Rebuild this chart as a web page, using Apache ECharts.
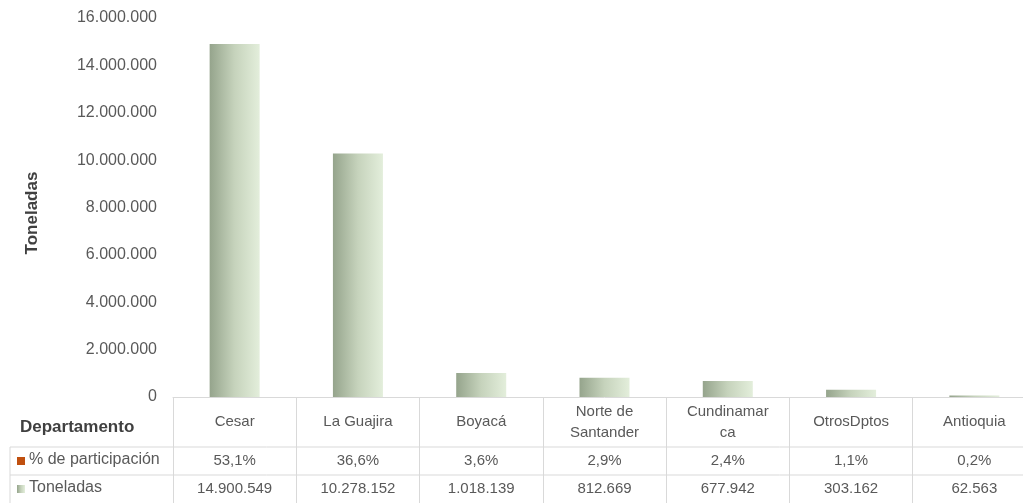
<!DOCTYPE html>
<html>
<head>
<meta charset="utf-8">
<script src="https://cdn.jsdelivr.net/npm/echarts@6/dist/echarts.min.js"></script>
<style>
  html, body { margin: 0; padding: 0; background: #fff; overflow: hidden; }
  #main { width: 1036px; height: 503px; }
</style>
</head>
<body>
<div id="main"></div>
<script>
const categories = ['Cesar', 'La Guajira', 'Boyacá', 'Norte de Santander', 'Cundinamarca', 'OtrosDptos', 'Antioquia']
const categoryLabels = ['Cesar', 'La Guajira', 'Boyacá', 'Norte de\nSantander', 'Cundinamar\nca', 'OtrosDptos', 'Antioquia']
const toneladas = [14900549, 10278152, 1018139, 812669, 677942, 303162, 62563]
const participacion = ['53,1%', '36,6%', '3,6%', '2,9%', '2,4%', '1,1%', '0,2%']
const rowNames = ['% de participación', 'Toneladas']

const fmt = v => String(v).replace(/\B(?=(\d{3})+(?!\d))/g, '.')
const font = 'Liberation Sans, Arial, sans-serif'
const textColor = '#595959'
const lineColor = '#d9d9d9'

const barFill = {
  type: 'linear', x: 0, y: 0, x2: 1, y2: 0,
  colorStops: [
    { offset: 0, color: '#95a48c' },
    { offset: 0.5, color: '#c6d3bc' },
    { offset: 1, color: '#e3eedb' }
  ]
}

const chart = echarts.init(document.getElementById('main'))
const tableAxis = (offset, fn) => ({
  type: 'category',
  position: 'bottom',
  offset: offset,
  data: categories,
  axisLine: { show: false },
  axisTick: { show: false },
  axisLabel: {
    interval: 0,
    margin: 14,
    verticalAlign: 'middle',
    color: textColor,
    fontFamily: font,
    fontSize: 15,
    formatter: fn
  }
})

const option = {
  animation: false,
  grid: { left: 173, top: 18, right: 0, bottom: 106, containLabel: false },
  xAxis: [
    {
      type: 'category',
      data: categories,
      axisLine: { show: true, lineStyle: { color: lineColor } },
      axisTick: { show: true, length: 106, lineStyle: { color: lineColor } },
      axisLabel: {
        interval: 0,
        margin: 25,
        verticalAlign: 'middle',
        lineHeight: 21,
        color: textColor,
        fontFamily: font,
        fontSize: 15,
        formatter: (v, i) => categoryLabels[i]
      }
    },
    tableAxis(50, (v, i) => participacion[i]),
    tableAxis(78, (v, i) => fmt(toneladas[i]))
  ],
  yAxis: {
    type: 'value',
    min: 0,
    max: 16000000,
    interval: 2000000,
    axisLine: { show: false },
    axisTick: { show: false },
    splitLine: { show: false },
    axisLabel: { margin: 16, color: textColor, fontFamily: font, fontSize: 16, formatter: v => fmt(v) }
  },
  series: [
    {
      type: 'bar',
      name: 'Toneladas',
      data: toneladas,
      barWidth: 50,
      itemStyle: { color: barFill }
    }
  ],
  graphic: [
    { type: 'text', x: 32, y: 213, rotation: Math.PI / 2, style: { text: 'Toneladas', fontFamily: font, fontWeight: 'bold', fontSize: 17, fill: '#404040', align: 'center', verticalAlign: 'middle' } },
    { type: 'line', shape: { x1: 10, y1: 447, x2: 1036, y2: 447 }, style: { stroke: lineColor, lineWidth: 1 } },
    { type: 'line', shape: { x1: 10, y1: 475, x2: 1036, y2: 475 }, style: { stroke: lineColor, lineWidth: 1 } },
    { type: 'line', shape: { x1: 10, y1: 447, x2: 10, y2: 503 }, style: { stroke: lineColor, lineWidth: 1 } },
    { type: 'text', left: 20, top: 419, style: { text: 'Departamento', fontFamily: font, fontWeight: 'bold', fontSize: 17, fill: '#404040' } },
    { type: 'rect', shape: { x: 17, y: 457, width: 8, height: 8 }, style: { fill: '#c0500f' } },
    { type: 'text', left: 29, top: 452, style: { text: rowNames[0], fontFamily: font, fontSize: 16, fill: textColor } },
    { type: 'rect', shape: { x: 17, y: 485, width: 8, height: 8 }, style: { fill: barFill } },
    { type: 'text', left: 29, top: 480, style: { text: rowNames[1], fontFamily: font, fontSize: 16, fill: textColor } }
  ]
}
chart.setOption(option)
</script>
</body>
</html>
